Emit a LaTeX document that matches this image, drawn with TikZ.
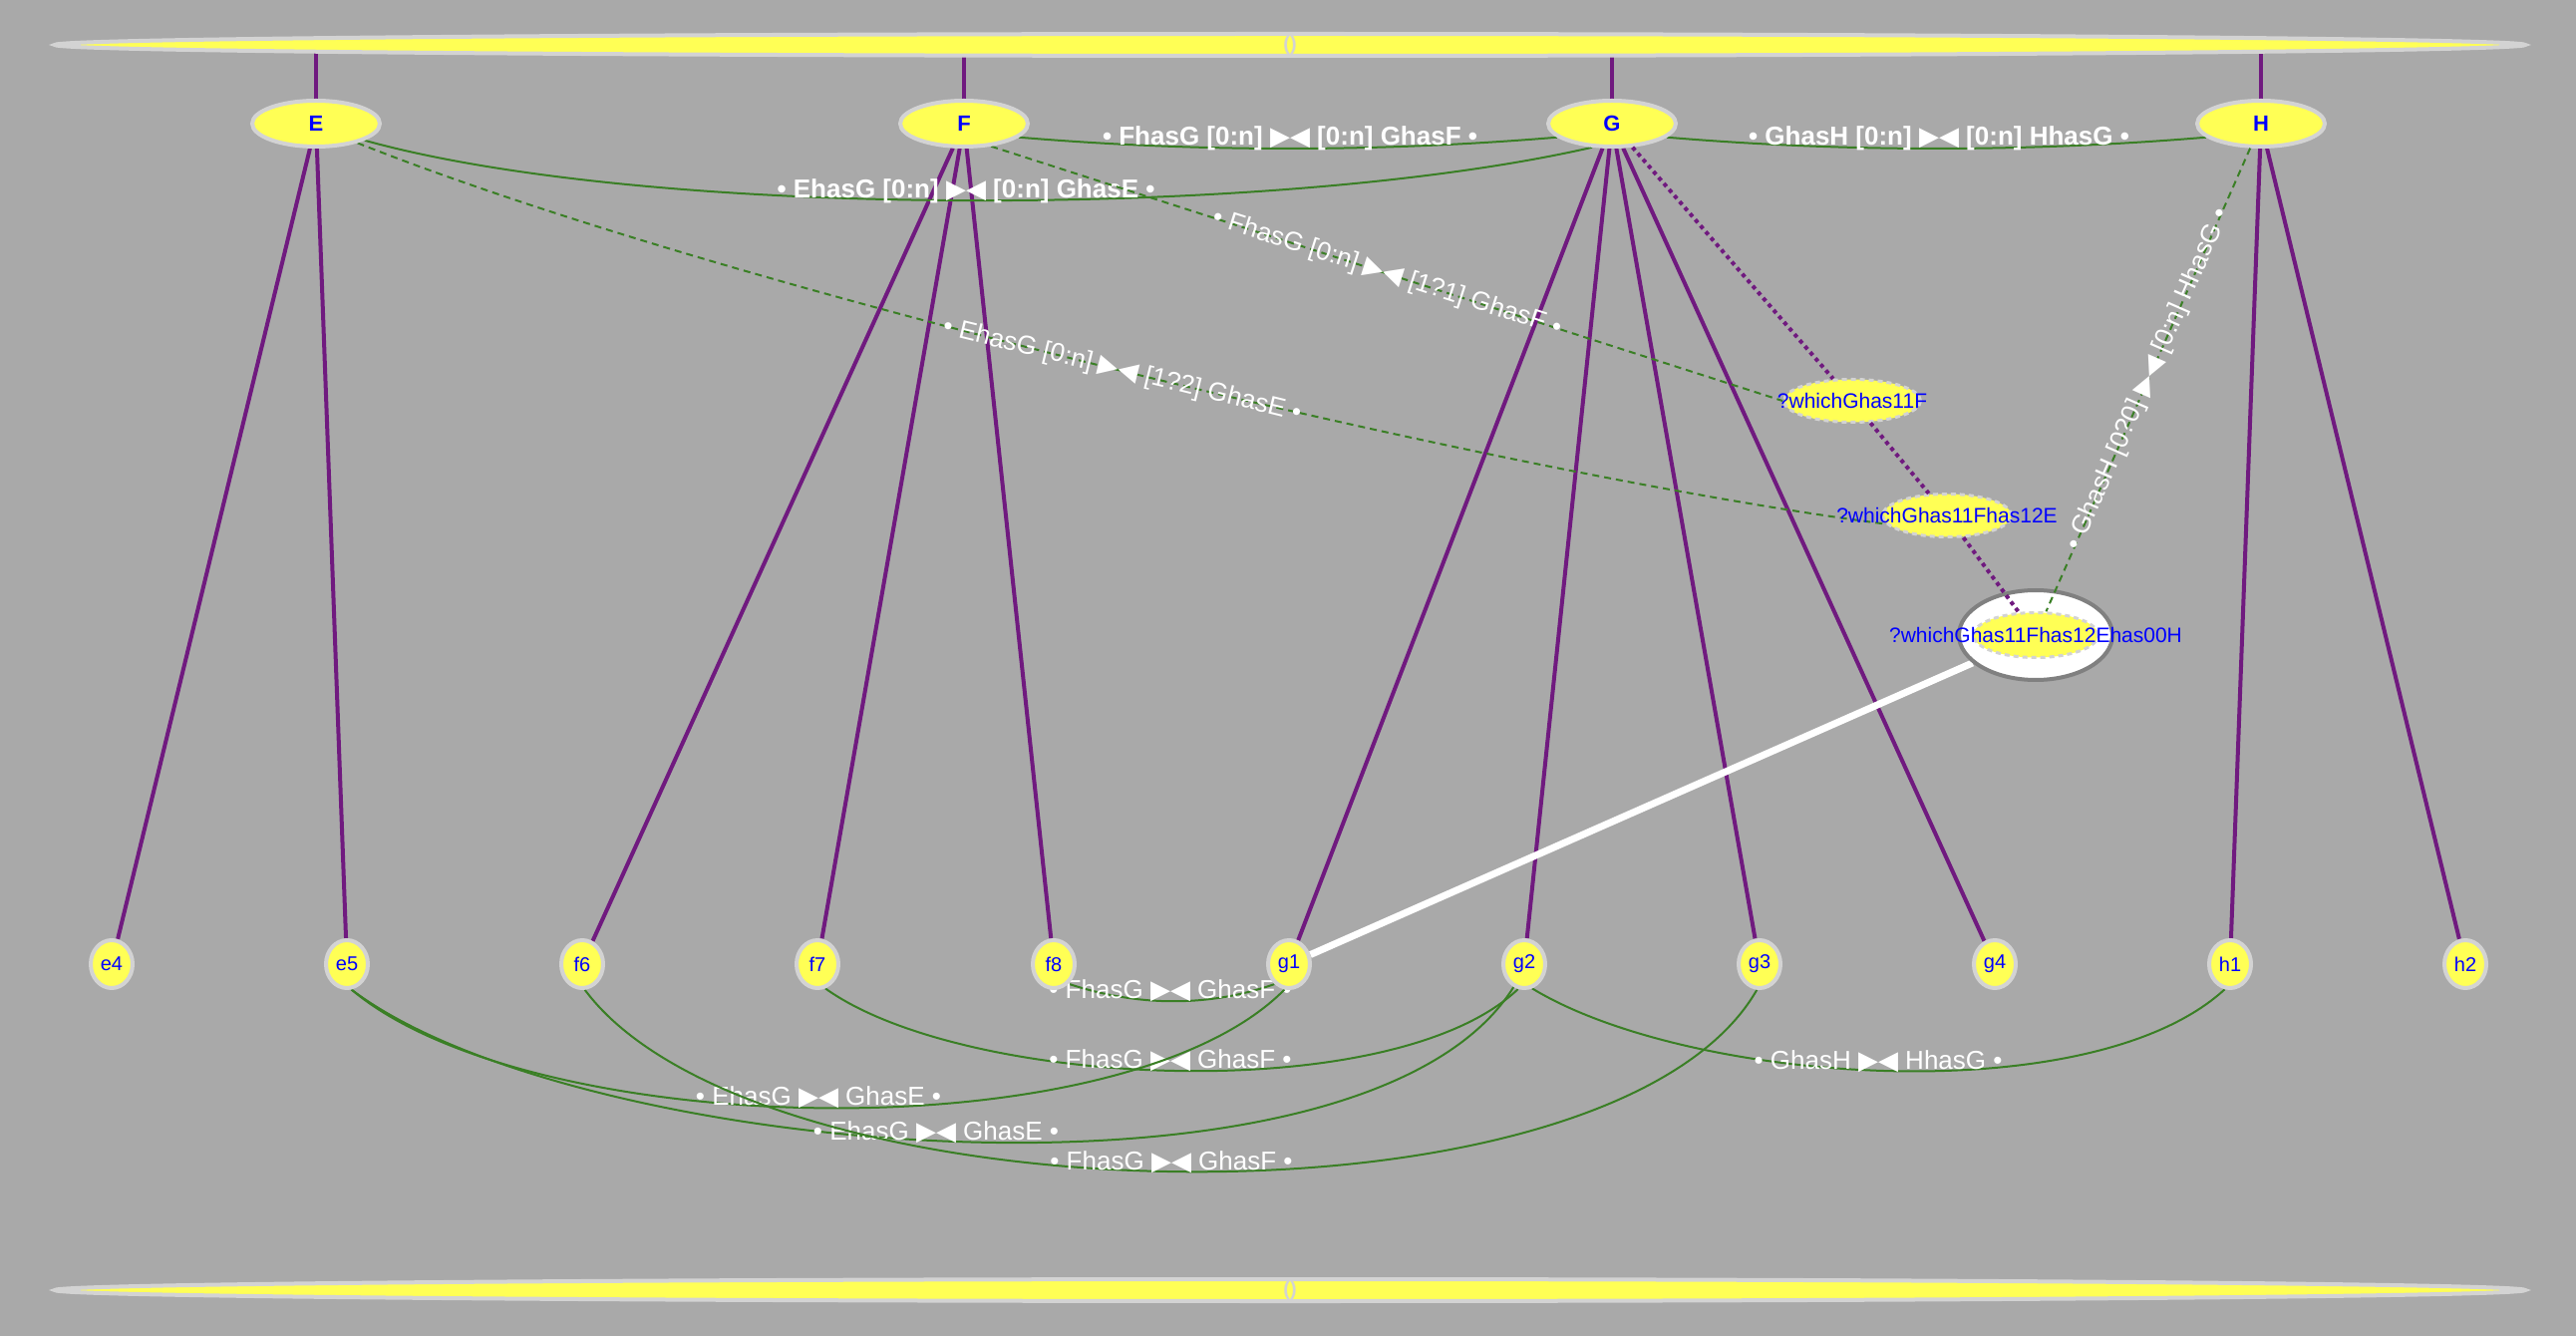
\documentclass[tikz,border=0pt]{standalone}
\usepackage{fontspec}
\setmainfont{Liberation Sans}
\newfontfamily\symf{DejaVu Sans}
\usetikzlibrary{shapes.geometric}
\definecolor{bgc}{HTML}{A9A9A9}
\definecolor{nfill}{HTML}{FFFF55}
\definecolor{nbord}{HTML}{D3D3D3}
\definecolor{pur}{HTML}{701A7F}
\definecolor{grn}{HTML}{3A7F25}
\definecolor{ntext}{HTML}{0000FF}
\pgfdeclarelayer{back}
\pgfdeclarelayer{edges}
\pgfsetlayers{back,edges,main}
\newcommand{\mytri}{{\symf ▶◀}}
\begin{document}
\begin{tikzpicture}[x=0.5pt,y=0.5pt,
  topnode/.style={ellipse, draw=nbord, line width=2pt, fill=nfill, minimum width=64pt, minimum height=23pt, inner sep=0pt, text=ntext, font=\fontsize{11}{13}\selectfont\bfseries},
  leaf/.style={ellipse, draw=nbord, line width=2pt, fill=nfill, minimum width=21pt, minimum height=24pt, inner sep=0pt, text=ntext, font=\fontsize{10}{12}\selectfont},
  bar/.style={ellipse, draw=nbord, line width=2pt, fill=nfill, minimum width=1239pt, minimum height=11pt, inner sep=0pt},
  bartext/.style={text=nbord, font=\fontsize{10}{12}\selectfont\bfseries, inner sep=0pt},
  qnode/.style={ellipse, draw=nbord, line width=1.5pt, dash pattern=on 2.5pt off 2pt, fill=nfill, inner sep=0pt},
  qtext/.style={text=ntext, font=\fontsize{10.5}{12}\selectfont, inner sep=0pt},
  pedge/.style={draw=pur, line width=2pt},
  pdot/.style={draw=pur, line width=2pt, dash pattern=on 2pt off 2pt},
  gedge/.style={draw=grn, line width=1pt},
  gdash/.style={draw=grn, line width=1pt, dash pattern=on 3.5pt off 2.5pt},
  elab/.style={text=white, font=\fontsize{13}{15}\selectfont, inner sep=0pt},
  eblab/.style={text=white, font=\fontsize{13}{15}\selectfont\bfseries, inner sep=0pt},
]
\useasboundingbox (0,0) rectangle (2584,1340);
\begin{pgfonlayer}{back}
\fill[bgc] (0,0) rectangle (2584,1340);
\end{pgfonlayer}

% bars
\node[bar, label={[bartext]center:()}] (topbar) at (1294,1295) {};
\node[bar, label={[bartext]center:()}] (botbar) at (1294,46) {};

% top nodes
\node[topnode] (E) at (317,1216) {E};
\node[topnode] (F) at (967,1216) {F};
\node[topnode] (G) at (1617,1216) {G};
\node[topnode] (H) at (2268,1216) {H};

% leaves
\node[leaf] (e4) at (112,373) {e4};
\node[leaf] (e5) at (348,373) {e5};
\node[leaf] (f6) at (584,373) {f6};
\node[leaf] (f7) at (820,373) {f7};
\node[leaf] (f8) at (1057,373) {f8};
\node[leaf] (g1) at (1293,373) {g1};
\node[leaf] (g2) at (1529,373) {g2};
\node[leaf] (g3) at (1765,373) {g3};
\node[leaf] (g4) at (2001,373) {g4};
\node[leaf] (h1) at (2237,373) {h1};
\node[leaf] (h2) at (2473,373) {h2};

% query nodes
\node[qnode, minimum width=68.5pt, minimum height=21.5pt, label={[qtext]center:?whichGhas11F}] (Q1) at (1858,938) {};
\node[qnode, minimum width=64.5pt, minimum height=21.5pt, label={[qtext]center:?whichGhas11Fhas12E}] (Q2) at (1953,823) {};
\node[ellipse, draw=gray, line width=2pt, fill=white, minimum width=77pt, minimum height=45pt, inner sep=0pt] (Q3out) at (2042,703) {};
\node[qnode, minimum width=62.5pt, minimum height=22.5pt, label={[qtext]center:?whichGhas11Fhas12Ehas00H}] (Q3in) at (2042,703) {};

\begin{pgfonlayer}{edges}
% bar links
\draw[pedge] (E) -- (E |- topbar.center);
\draw[pedge] (F) -- (F |- topbar.center);
\draw[pedge] (G) -- (G |- topbar.center);
\draw[pedge] (H) -- (H |- topbar.center);
% tree links
\draw[pedge] (E) -- (e4);
\draw[pedge] (E) -- (e5);
\draw[pedge] (F) -- (f6);
\draw[pedge] (F) -- (f7);
\draw[pedge] (F) -- (f8);
\draw[pedge] (G) -- (g1);
\draw[pedge] (G) -- (g2);
\draw[pedge] (G) -- (g3);
\draw[pedge] (G) -- (g4);
\draw[pedge] (H) -- (h1);
\draw[pedge] (H) -- (h2);
% white link
\draw[white, line width=3.5pt] (Q3out) -- (g1);
% top relations
\draw[gedge] (F.-14) .. controls +(180,-15) and +(-180,-15) .. (G.194);
\node[eblab, anchor=base] (lFG) at (1294,1194) {• FhasG [0:n] \mytri{} [0:n] GhasF •};
\draw[gedge] (G.-14) .. controls +(180,-15) and +(-180,-15) .. (H.194);
\node[eblab, anchor=base] (lGH) at (1945,1194) {• GhasH [0:n] \mytri{} [0:n] HhasG •};
\draw[gedge] (E.-19) .. controls (650,1120) and (1281,1120) .. (G.230);
\node[eblab, anchor=base] (lEG) at (969,1141) {• EhasG [0:n] \mytri{} [0:n] GhasE •};
% dashed relations
\draw[gdash] (F.-40) -- (Q1.west) node[midway, sloped, elab] (lFQ) {• FhasG [0:n] \mytri{} [1?1] GhasF •};
\draw[gdash] (E.-25) .. controls (730,1049) and (1521,862) .. (Q2.188) node[midway, sloped, elab] (lEQ) {• EhasG [0:n] \mytri{} [1?2] GhasE •};
% bottom relations
\draw[gedge] (f8.-53) .. controls (1139,331) and (1210,329) .. (g1.-126);
\node[elab, anchor=base] (l1) at (1174,339) {• FhasG \mytri{} GhasF •};
\draw[gedge] (f7.-72) .. controls (968,248) and (1398,229) .. (g2.-104);
\node[elab, anchor=base] (l2) at (1174,269) {• FhasG \mytri{} GhasF •};
\draw[gedge] (e5.-80) .. controls (532,196) and (1125,182) .. (g1.-100);
\node[elab, anchor=base] (l3) at (821,232) {• EhasG \mytri{} GhasE •};
\draw[gedge] (e5.-80) .. controls (577,177) and (1369,110) .. (g2.-115);
\node[elab, anchor=base] (l4) at (939,197) {• EhasG \mytri{} GhasE •};
\draw[gedge] (f6.-84) .. controls (760,114) and (1617,94) .. (g3.-96);
\node[elab, anchor=base] (l5) at (1175,167) {• FhasG \mytri{} GhasF •};
\draw[gedge] (g2.-72) .. controls (1694,253) and (2097,224) .. (h1.-102);
\node[elab, anchor=base] (l6) at (1884,268) {• GhasH \mytri{} HhasG •};
\end{pgfonlayer}

% query chain (over the white ellipse)
\draw[pdot] (G) -- (Q1);
\draw[pdot] (Q1) -- (Q2);
\draw[pdot] (Q2) -- (Q3in);
\draw[gdash] (H) -- (Q3in) node[midway, sloped, elab] (lHQ) {• GhasH [0?0] \mytri{} [0:n] HhasG •};
\end{tikzpicture}
\end{document}
